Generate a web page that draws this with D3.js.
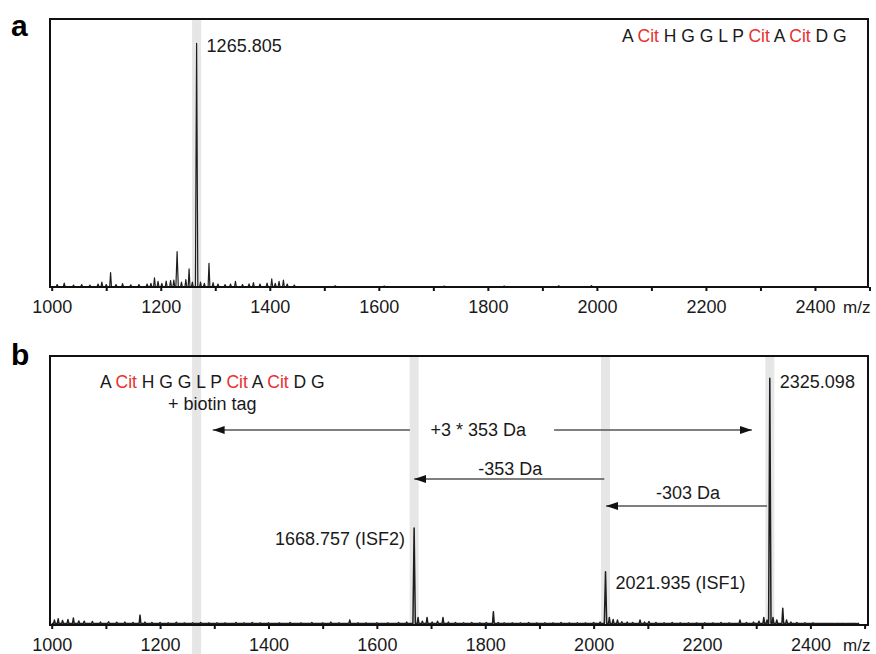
<!DOCTYPE html>
<html>
<head>
<meta charset="utf-8">
<script src="https://cdn.jsdelivr.net/npm/d3@7"></script>
<style>
  body { margin: 0; background: #fff; }
  svg { display: block; font-family: "Liberation Sans", Arial, sans-serif; }
</style>
</head>
<body>
<div id="chart"></div>
<script>
// peaks: [m/z, relative intensity %]
var peaksA = [
  [1010, 1], [1023, 1.6], [1040, 0.8], [1055, 1], [1070, 0.8], [1085, 1.2], [1092, 2],
  [1100, 1], [1108, 5.9], [1118, 1], [1130, 1.4], [1145, 0.9], [1160, 1], [1175, 1.2],
  [1182, 1.5], [1188.5, 3.8], [1195, 2.3], [1202, 1.5], [1210, 2.4], [1218, 2.6],
  [1224, 2.8], [1230, 14.5], [1238, 2], [1246, 3], [1252, 7.4], [1258, 2],
  [1265.805, 100], [1273, 2], [1280, 1.5], [1288.5, 9.7], [1296, 1.8], [1305, 1.2],
  [1318, 1], [1328, 1.2], [1337, 2.3], [1350, 1], [1362, 1.3], [1370, 1.8], [1382, 1.2],
  [1395, 1.6], [1403.6, 3.3], [1410, 1.5], [1417, 2.3], [1425, 2.8], [1432, 1.2], [1445, 0.8],
  [1520, 0.5], [1610, 0.4], [1720, 0.4], [1830, 0.4], [1930, 0.5], [1990, 0.6]
];

var peaksB = [
  [1005, 2], [1012, 2.5], [1020, 1.8], [1030, 2.2], [1040, 2.8], [1050, 1.6], [1060, 1.5],
  [1075, 1.4], [1090, 1.2], [1105, 1.3], [1120, 1.1], [1135, 1.2], [1150, 1], [1163, 4],
  [1172, 1.2], [1185, 1], [1200, 1], [1215, 0.9], [1230, 1.1], [1245, 0.8], [1260, 0.9],
  [1275, 1], [1290, 0.8], [1305, 0.9], [1320, 0.8], [1340, 1], [1355, 0.9], [1370, 1],
  [1385, 0.8], [1400, 0.9], [1420, 0.8], [1440, 1], [1460, 0.8], [1480, 1], [1500, 0.8],
  [1515, 1.2], [1530, 0.9], [1550, 2], [1565, 0.9], [1580, 0.8], [1600, 0.9], [1620, 0.8],
  [1640, 1], [1655, 1.2], [1668.757, 39.3], [1676, 3], [1684, 1.5], [1692.6, 3], [1702, 1.2],
  [1712, 1.5], [1722, 3], [1732, 1.2], [1745, 1], [1760, 0.9], [1775, 1], [1790, 0.9],
  [1802, 1], [1815, 5.4], [1824, 1], [1835, 0.9], [1850, 0.8], [1865, 0.9], [1880, 1],
  [1895, 0.8], [1910, 0.9], [1925, 0.8], [1940, 1], [1955, 0.8], [1970, 0.9], [1985, 0.8],
  [2000, 1], [2012, 1.2], [2021.935, 21.6], [2029, 3], [2036, 2.2], [2044, 2], [2052, 1.3],
  [2062, 1.2], [2072, 1], [2085.6, 2], [2094, 1.2], [2102, 1.4], [2115, 1], [2130, 0.9],
  [2145, 1], [2160, 0.8], [2175, 0.9], [2190, 0.8], [2205, 0.9], [2220, 0.8], [2235, 1],
  [2250, 0.9], [2270, 2], [2282, 1], [2295, 1.2], [2305, 1.5], [2314, 3], [2320, 2],
  [2325.098, 100], [2331, 3], [2338, 2], [2349, 6.8], [2356, 2], [2364, 1.2], [2375, 1],
  [2390, 0.9], [2405, 0.8], [2425, 0.6], [2445, 0.5], [2465, 0.5], [2485, 0.4]
];

var xTicks = d3.range(1000, 2501, 100);
var xTickLabels = [1000, 1200, 1400, 1600, 1800, 2000, 2200, 2400];

var peptide = ["A", "Cit", "H", "G", "G", "L", "P", "Cit", "A", "Cit", "D", "G"];

var labelA = [{mz: 1265.805, text: "1265.805"}];
var labelsB = [
  {mz: 1668.757, text: "1668.757 (ISF2)"},
  {mz: 2021.935, text: "2021.935 (ISF1)"},
  {mz: 2325.098, text: "2325.098"}
];
var bandsB = [1668.757, 2021.935, 2325.098];

// mass shift arrows: from / to in m/z
var shifts = [
  {label: "+3 * 353 Da", from: 1661, to: 1297, from2: 1927, to2: 2292, textMz: 1787},
  {label: "-353 Da", from: 2019.6, to: 1668.9, textMz: 1846},
  {label: "-303 Da", from: 2319.9, to: 2022.9, textMz: 2174}
];

var width = 876, height = 654;
var frameA = {x: 50, y: 19, w: 818, h: 268},
    frameB = {x: 50, y: 356, w: 818, h: 269};

var svg = d3.select("#chart").append("svg")
    .attr("width", width)
    .attr("height", height);

var xA = d3.scaleLinear().domain([1000, 2500]).range([51.7, 869.5]);
var xB = d3.scaleLinear().domain([1000, 2500]).range([51.7, 864.6]);
var yA = d3.scaleLinear().domain([0, 110]).range([frameA.y + frameA.h, frameA.y]);
var yB = d3.scaleLinear().domain([0, 109]).range([frameB.y + frameB.h, frameB.y]);

var bandW = 9, bandColor = "#e6e6e6";

// grey bands
svg.append("rect")
    .attr("x", xA(1265.805) - bandW / 2)
    .attr("y", frameA.y)
    .attr("width", bandW)
    .attr("height", height - frameA.y)
    .attr("fill", bandColor);

svg.selectAll(".bandB")
    .data(bandsB)
    .enter().append("rect")
    .attr("class", "bandB")
    .attr("x", function(d) { return xB(d) - bandW / 2; })
    .attr("y", frameB.y)
    .attr("width", bandW)
    .attr("height", frameB.h)
    .attr("fill", bandColor);

function peakPoints(peaks, start, end, base) {
  var pts = [[start, base]];
  peaks.forEach(function(p) {
    var w = p[1] > 10 ? 2.2 : 1.6;
    pts.push([p[0] - w, base], [p[0], p[1]], [p[0] + w, base]);
  });
  pts.push([end, base]);
  return pts.sort(function(a, b) { return a[0] - b[0]; });
}

function drawSpectrum(peaks, x, y, end, base, sw) {
  var line = d3.line()
      .x(function(d) { return x(d[0]); })
      .y(function(d) { return y(d[1]); });
  svg.append("path")
      .attr("d", line(peakPoints(peaks, 1000, end, base)))
      .attr("fill", "none")
      .attr("stroke", "#1e1e1e")
      .attr("stroke-width", sw)
      .attr("stroke-linejoin", "round");
}

drawSpectrum(peaksA, xA, yA, 2000, 0.2, 1.2);
drawSpectrum(peaksB, xB, yB, 2490, 0.6, 1.5);

// frames
[frameA, frameB].forEach(function(f) {
  svg.append("rect")
      .attr("x", f.x).attr("y", f.y)
      .attr("width", f.w).attr("height", f.h)
      .attr("fill", "none")
      .attr("stroke", "#111")
      .attr("stroke-width", 2);
});

function drawAxis(x, y0) {
  var axis = d3.axisBottom(x)
      .tickValues(xTicks)
      .tickSize(4)
      .tickSizeOuter(0)
      .tickPadding(9)
      .tickFormat(function(d) { return xTickLabels.indexOf(d) >= 0 ? d : ""; });
  var g = svg.append("g")
      .attr("transform", "translate(0," + y0 + ")")
      .call(axis);
  g.select(".domain").remove();
  g.selectAll(".tick line").attr("stroke", "#111").attr("stroke-width", 2);
  g.selectAll(".tick text")
      .attr("fill", "#1a1a1a")
      .style("font-size", "18px")
      .style("font-family", "'Liberation Sans', Arial, sans-serif");
  svg.append("text")
      .attr("x", 843)
      .attr("y", y0 + 26)
      .attr("fill", "#1a1a1a")
      .style("font-size", "17px")
      .text("m/z");
}

drawAxis(xA, frameA.y + frameA.h);
drawAxis(xB, frameB.y + frameB.h);

// panel letters
svg.append("text").attr("x", 11).attr("y", 36)
    .style("font-size", "30px").style("font-weight", "bold").text("a");
svg.append("text").attr("x", 11).attr("y", 365)
    .style("font-size", "30px").style("font-weight", "bold").text("b");

function drawPeptide(x0, y0) {
  var t = svg.append("text")
      .attr("x", x0).attr("y", y0)
      .attr("fill", "#1a1a1a")
      .style("font-size", "17.5px")
      .attr("xml:space", "preserve");
  peptide.forEach(function(r, i) {
    t.append("tspan")
        .attr("fill", r === "Cit" ? "#e8312f" : "#1a1a1a")
        .text(r + (i < peptide.length - 1 ? " " : ""));
  });
}

drawPeptide(622, 42);
drawPeptide(100, 388);
svg.append("text").attr("x", 168).attr("y", 410)
    .attr("fill", "#1a1a1a").style("font-size", "18px").text("+ biotin tag");

// peak labels
labelA.forEach(function(d) {
  svg.append("text")
      .attr("x", xA(d.mz) + 10)
      .attr("y", yA(100) + 9)
      .attr("fill", "#1a1a1a")
      .style("font-size", "18px")
      .text(d.text);
});

var peakTop = {};
peaksB.forEach(function(p) { peakTop[p[0]] = p[1]; });

svg.selectAll(".lblB")
    .data(labelsB)
    .enter().append("text")
    .attr("class", "lblB")
    .attr("x", function(d) { return d.mz < 1700 ? xB(d.mz) - 9 : xB(d.mz) + 10; })
    .attr("y", function(d) { return yB(peakTop[d.mz]) + (d.mz > 2300 ? 10 : 17); })
    .attr("text-anchor", function(d) { return d.mz < 1700 ? "end" : "start"; })
    .attr("fill", "#1a1a1a")
    .style("font-size", "18px")
    .text(function(d) { return d.text; });

// arrows
svg.append("defs").append("marker")
    .attr("id", "head")
    .attr("viewBox", "0 0 12 8")
    .attr("refX", 12).attr("refY", 4)
    .attr("markerWidth", 12).attr("markerHeight", 8)
    .attr("markerUnits", "userSpaceOnUse")
    .attr("orient", "auto")
    .append("path")
    .attr("d", "M0,0L12,4L0,8Z")
    .attr("fill", "#111");

var arrowRows = [430, 479, 506];
var textRows = [436, 475, 499];

function arrow(x1, x2, y) {
  svg.append("line")
      .attr("x1", x1).attr("x2", x2)
      .attr("y1", y).attr("y2", y)
      .attr("stroke", "#555")
      .attr("stroke-width", 1.3)
      .attr("marker-end", "url(#head)");
}

shifts.forEach(function(s, i) {
  arrow(xB(s.from), xB(s.to), arrowRows[i]);
  if (s.from2) arrow(xB(s.from2), xB(s.to2), arrowRows[i]);
  svg.append("text")
      .attr("x", xB(s.textMz))
      .attr("y", textRows[i])
      .attr("text-anchor", "middle")
      .attr("fill", "#1a1a1a")
      .style("font-size", "18px")
      .text(s.label);
});
</script>
</body>
</html>
